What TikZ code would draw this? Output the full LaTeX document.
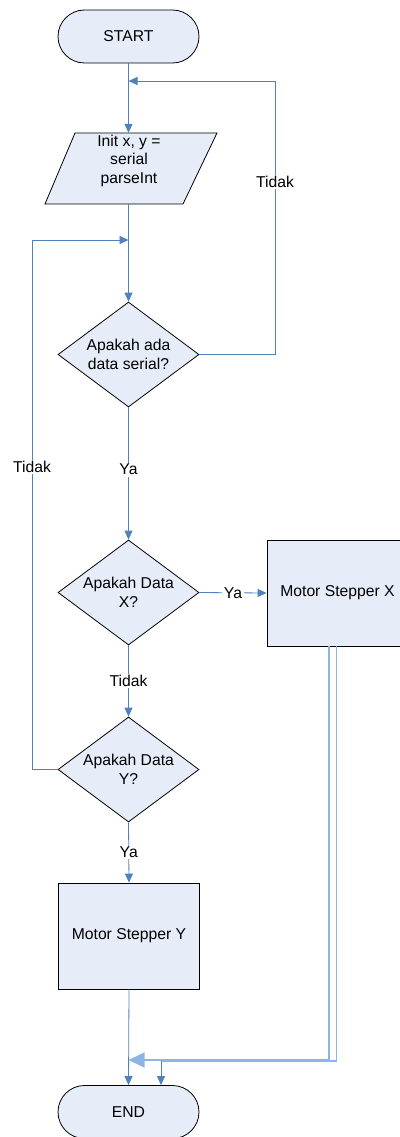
\documentclass[tikz,border=0pt]{standalone}
\usepackage{fontspec}
\setmainfont{Liberation Sans}
\usetikzlibrary{shapes.geometric,arrows.meta}
\definecolor{boxfill}{RGB}{231,237,248}
\definecolor{lineblue}{RGB}{79,129,189}
\definecolor{lightblue}{RGB}{141,180,226}
\begin{document}
\begin{tikzpicture}[x=1pt,y=-1pt,
  font=\fontsize{15.7}{18.5}\selectfont,
  term/.style={draw=black, fill=boxfill, rounded corners=26.5pt, minimum width=141pt, minimum height=53pt, inner sep=0pt, line width=0.8pt},
  dec/.style={diamond, draw=black, fill=boxfill, aspect=1.343, minimum width=141pt, minimum height=105pt, inner sep=0pt, align=center, line width=0.8pt},
  proc/.style={rectangle, draw=black, fill=boxfill, minimum width=141pt, minimum height=106pt, inner sep=0pt, align=center, line width=0.8pt},
  shapeline/.style={draw=black, fill=boxfill, line width=0.8pt},
  arr/.style={draw=lineblue, line width=0.8pt, -{Triangle[length=9pt,width=8pt]}},
  dbl/.style={draw=lightblue, line width=1.6pt},
  lab/.style={fill=white, inner sep=1.5pt}]
\useasboundingbox (0,0) rectangle (399,1137);

% nodes
\node[term] (start) at (128.5,36.5) {START};
\node[inner sep=0pt, minimum width=142pt, minimum height=71pt] (init) at (131,168.5) {};
\draw[shapeline] (45,204) -- (75,133) -- (217,133) -- (183,204) -- cycle;
\node[align=center, inner sep=0pt] (inittxt) at (129,160.5) {Init x, y =\\serial\\parseInt};
\node[dec] (d1) at (128.5,354.5) {Apakah ada\\data serial?};
\node[dec] (dx) at (128.5,592.5) {Apakah Data\\X?};
\node[proc] (msx) at (337.5,593) {Motor Stepper X};
\node[dec] (dy) at (128.5,769.5) {Apakah Data\\Y?};
\node[proc] (msy) at (129,936) {Motor Stepper Y};
\node[term] (end) at (128.5,1112) {END};

\coordinate (j1) at (128.5,81);
\coordinate (j2) at (128.5,240);

% connectors
\draw[arr] (start.south) -- (start.south |- init.north);
\draw[arr] (d1.north |- init.south) -- (d1.north);
\draw[arr] (d1.east) -- (275,354.5) -- node[lab, pos=0.63] {Tidak} (275,81) -- (j1);
\draw[arr] (d1.south) -- node[lab, pos=0.47] {Ya} (dx.north);
\draw[arr] (dx.east) -- node[lab] {Ya} (msx.west);
\draw[arr] (dx.south) -- node[lab] {Tidak} (dy.north);
\draw[arr] (dy.west) -- (32,769.5) -- node[lab, pos=0.571] {Tidak} (32,240) -- (j2);
\draw[arr] (dy.south) -- node[lab] {Ya} (msy.north);
\draw[arr] (msy.south) -- (end.north);

% connectors from Motor Stepper X
\coordinate (bx1) at (329,1060);
\coordinate (bx2) at (336.5,1061);
\coordinate (e2) at (161,1061);
\draw[dbl] (bx2 |- msx.south) -- (bx2) -- (e2);
\draw[dbl, -{Triangle[length=16pt,width=15pt]}] (bx1 |- msx.south) -- (bx1) -- (128.5,1060);
\draw[arr] (e2) -- (e2 |- end.north);
\end{tikzpicture}
\end{document}
